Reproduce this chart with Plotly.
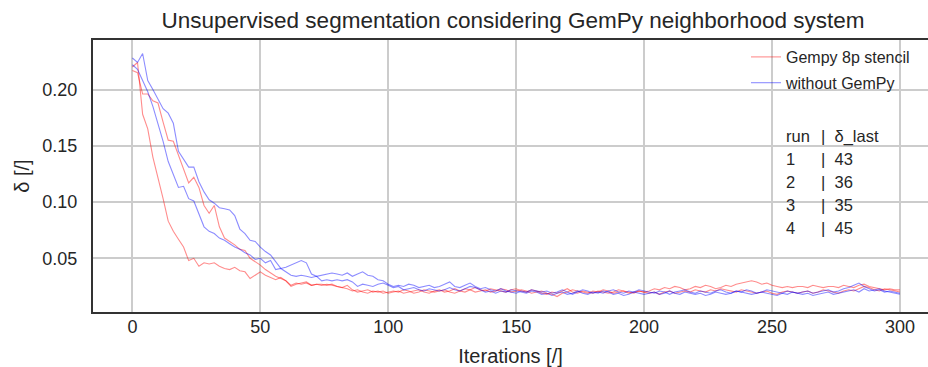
import plotly.graph_objects as go

# iterations sampled every 2 steps
iterations = list(range(0, 301, 2))

gempy_run1 = [
    0.220, 0.224, 0.178, 0.165, 0.140, 0.122, 0.103, 0.083, 0.074, 0.067, 0.060,
    0.048, 0.050, 0.043, 0.046, 0.045, 0.046, 0.043, 0.041, 0.040, 0.042,
    0.039, 0.038, 0.032, 0.035, 0.038, 0.035, 0.033, 0.031, 0.033, 0.030,
    0.025, 0.027, 0.028, 0.029, 0.026, 0.027, 0.027, 0.026, 0.027, 0.025,
    0.024, 0.026, 0.022, 0.020, 0.021, 0.022, 0.020, 0.021, 0.019, 0.020,
    0.021, 0.020, 0.022, 0.021, 0.019, 0.020, 0.022, 0.021, 0.020, 0.021,
    0.022, 0.020, 0.019, 0.021, 0.023, 0.022, 0.020, 0.021, 0.022, 0.020,
    0.021, 0.023, 0.022, 0.020, 0.021, 0.022, 0.021, 0.019, 0.020, 0.021,
    0.019, 0.018, 0.016, 0.019, 0.020, 0.022, 0.021, 0.020, 0.019, 0.021,
    0.020, 0.022, 0.021, 0.019, 0.020, 0.021, 0.019, 0.020, 0.021, 0.020,
    0.021, 0.023, 0.022, 0.024, 0.023, 0.025, 0.024, 0.022, 0.023, 0.025,
    0.024, 0.026, 0.025, 0.023, 0.024, 0.026, 0.025, 0.027, 0.028, 0.029,
    0.030, 0.029, 0.027, 0.028, 0.026, 0.025, 0.024, 0.025, 0.024, 0.025,
    0.025, 0.024, 0.026, 0.025, 0.024, 0.025, 0.025, 0.024, 0.026, 0.025,
    0.024, 0.026, 0.027, 0.025, 0.024, 0.023, 0.022, 0.023, 0.022, 0.022,
]

gempy_run2 = [
    0.217, 0.215, 0.196, 0.196, 0.190, 0.188, 0.171, 0.155, 0.154, 0.142, 0.130,
    0.117, 0.122, 0.113, 0.097, 0.090, 0.097, 0.078, 0.068, 0.065, 0.062,
    0.058, 0.057, 0.050, 0.047, 0.044, 0.040, 0.037, 0.034, 0.032, 0.030,
    0.026, 0.028, 0.027, 0.028, 0.026, 0.027, 0.026, 0.027, 0.026, 0.025,
    0.024, 0.023, 0.021, 0.022, 0.020, 0.019, 0.021, 0.020, 0.021, 0.019,
    0.020, 0.021, 0.019, 0.020, 0.021, 0.022, 0.020, 0.019, 0.021, 0.022,
    0.020, 0.021, 0.023, 0.021, 0.020, 0.022, 0.024, 0.022, 0.021, 0.023,
    0.022, 0.021, 0.020, 0.022, 0.023, 0.021, 0.020, 0.022, 0.021, 0.019,
    0.018, 0.020, 0.019, 0.021, 0.023, 0.020, 0.019, 0.021, 0.020, 0.019,
    0.021, 0.020, 0.019, 0.020, 0.022, 0.021, 0.020, 0.019, 0.021, 0.020,
    0.019, 0.020, 0.018, 0.020, 0.021, 0.019, 0.020, 0.021, 0.020, 0.022,
    0.021, 0.020, 0.022, 0.021, 0.023, 0.022, 0.021, 0.020, 0.022, 0.021,
    0.020, 0.019, 0.020, 0.021, 0.019, 0.018, 0.020, 0.021, 0.020, 0.019,
    0.020, 0.021, 0.019, 0.020, 0.022, 0.021, 0.020, 0.019, 0.021, 0.022,
    0.021, 0.023, 0.025, 0.024, 0.022, 0.021, 0.023, 0.022, 0.021, 0.020,
]

plain_run1 = [
    0.222, 0.218, 0.208, 0.198, 0.185, 0.170, 0.154, 0.136, 0.125, 0.113, 0.114,
    0.103, 0.101, 0.089, 0.078, 0.074, 0.072, 0.068, 0.066, 0.063, 0.060,
    0.058, 0.055, 0.053, 0.049, 0.050, 0.046, 0.048, 0.040, 0.041, 0.038,
    0.035, 0.034, 0.035, 0.034, 0.033, 0.034, 0.030, 0.031, 0.030, 0.031,
    0.030, 0.031, 0.029, 0.025, 0.027, 0.026, 0.025, 0.027, 0.028, 0.026,
    0.024, 0.025, 0.022, 0.023, 0.024, 0.022, 0.021, 0.023, 0.022, 0.021,
    0.022, 0.024, 0.022, 0.021, 0.023, 0.025, 0.024, 0.022, 0.020, 0.021,
    0.019, 0.021, 0.020, 0.022, 0.021, 0.020, 0.019, 0.021, 0.020, 0.018,
    0.019, 0.017, 0.019, 0.020, 0.018, 0.019, 0.021, 0.019, 0.018, 0.020,
    0.019, 0.021, 0.020, 0.018, 0.019, 0.017, 0.018, 0.020, 0.019, 0.018,
    0.019, 0.020, 0.018, 0.019, 0.021, 0.019, 0.018, 0.020, 0.019, 0.018,
    0.019, 0.017, 0.018, 0.020, 0.019, 0.018, 0.019, 0.021, 0.020, 0.019,
    0.018, 0.019, 0.020, 0.019, 0.018, 0.017, 0.019, 0.018, 0.020, 0.019,
    0.018, 0.019, 0.017, 0.018, 0.019, 0.020, 0.018, 0.019, 0.020, 0.021,
    0.022, 0.020, 0.023, 0.021, 0.022, 0.023, 0.021, 0.020, 0.019, 0.018,
]

plain_run2 = [
    0.228, 0.224, 0.232, 0.208, 0.200, 0.192, 0.183, 0.179, 0.170, 0.145, 0.138,
    0.131, 0.131, 0.118, 0.109, 0.102, 0.099, 0.095, 0.094, 0.093, 0.088,
    0.076, 0.072, 0.066, 0.065, 0.060, 0.056, 0.053, 0.047, 0.041, 0.042,
    0.044, 0.046, 0.048, 0.046, 0.036, 0.034, 0.035, 0.036, 0.037, 0.036,
    0.035, 0.037, 0.034, 0.036, 0.038, 0.035, 0.034, 0.031, 0.030, 0.027,
    0.025, 0.026, 0.025, 0.027, 0.026, 0.024, 0.025, 0.026, 0.024, 0.025,
    0.027, 0.029, 0.025, 0.024, 0.026, 0.028, 0.025, 0.023, 0.024, 0.022,
    0.021, 0.023, 0.021, 0.020, 0.019, 0.021, 0.020, 0.022, 0.021, 0.020,
    0.021, 0.019, 0.020, 0.022, 0.020, 0.018, 0.020, 0.022, 0.021, 0.019,
    0.020, 0.019, 0.021, 0.022, 0.020, 0.019, 0.021, 0.020, 0.022, 0.021,
    0.020, 0.019, 0.021, 0.020, 0.018, 0.020, 0.021, 0.022, 0.020, 0.019,
    0.021, 0.020, 0.019, 0.021, 0.022, 0.020, 0.019, 0.021, 0.020, 0.022,
    0.021, 0.019, 0.020, 0.022, 0.021, 0.020, 0.019, 0.021, 0.020, 0.019,
    0.020, 0.021, 0.019, 0.020, 0.021, 0.022, 0.020, 0.021, 0.023, 0.024,
    0.026, 0.028, 0.025, 0.023, 0.021, 0.022, 0.020, 0.021, 0.020, 0.019,
]

series_names = ["Gempy 8p stencil", "without GemPy"]
table_runs = ["1", "2", "3", "4"]
table_last = ["43", "36", "35", "45"]
x_ticks = [0, 50, 100, 150, 200, 250, 300]
y_ticks = [0.05, 0.10, 0.15, 0.20]

FONT = "Liberation Sans, Arial, sans-serif"
TXT = "#262626"
RED = "rgba(255,0,0,0.45)"
BLUE = "rgba(0,0,255,0.45)"

fig = go.Figure()
for i, ys in enumerate([gempy_run1, gempy_run2]):
    fig.add_trace(go.Scatter(x=iterations, y=ys, mode="lines",
                             line=dict(color=RED, width=1.1),
                             name=series_names[0], legendgroup="g",
                             showlegend=(i == 0)))
for i, ys in enumerate([plain_run1, plain_run2]):
    fig.add_trace(go.Scatter(x=iterations, y=ys, mode="lines",
                             line=dict(color=BLUE, width=1.1),
                             name=series_names[1], legendgroup="w",
                             showlegend=(i == 0)))

W, H = 928, 367
ml, mr, mt, mb = 93, 0, 40, 55
pw = W - ml - mr
ph = H - mt - mb

def px_x(px):
    return (px - ml) / pw

def px_y(py):
    return 1 - (py - mt) / ph

# table text
row_y = [136, 159, 182, 205, 228]
TFS = 16.5
fig.add_annotation(text="run", x=px_x(784), y=px_y(row_y[0]), xref="paper", yref="paper",
                   xanchor="left", yanchor="middle", showarrow=False,
                   font=dict(family=FONT, size=TFS, color=TXT))
fig.add_annotation(text="|  δ_last", x=px_x(819), y=px_y(row_y[0]), xref="paper", yref="paper",
                   xanchor="left", yanchor="middle", showarrow=False,
                   font=dict(family=FONT, size=TFS, color=TXT))
for k in range(4):
    fig.add_annotation(text=table_runs[k], x=px_x(784), y=px_y(row_y[k + 1]), xref="paper", yref="paper",
                       xanchor="left", yanchor="middle", showarrow=False,
                       font=dict(family=FONT, size=TFS, color=TXT))
    fig.add_annotation(text="|  " + table_last[k], x=px_x(819), y=px_y(row_y[k + 1]), xref="paper", yref="paper",
                       xanchor="left", yanchor="middle", showarrow=False,
                       font=dict(family=FONT, size=TFS, color=TXT))

x0 = -15.4
x_per_px = 300 / (900 - 132.5)
x1 = x0 + pw * x_per_px

fig.update_layout(
    width=W, height=H,
    margin=dict(l=ml, r=mr, t=mt, b=mb),
    paper_bgcolor="white", plot_bgcolor="white",
    font=dict(family=FONT, color=TXT),
    title=dict(text="Unsupervised segmentation considering GemPy neighborhood system",
               x=(513) / W, xref="container", xanchor="center",
               y=1 - 20 / H, yref="container", yanchor="middle",
               font=dict(family=FONT, size=22.5, color=TXT)),
    showlegend=True,
    legend=dict(x=px_x(746), y=px_y(40), xanchor="left", yanchor="top",
                bgcolor="rgba(0,0,0,0)", font=dict(family=FONT, size=16, color=TXT),
                traceorder="grouped", tracegroupgap=2),
    xaxis=dict(range=[x0, x1], tickvals=x_ticks, ticktext=[str(v) for v in x_ticks],
               showgrid=True, gridcolor="#cccccc", gridwidth=1.5, zeroline=False,
               showline=True, linecolor="#333333", linewidth=2, mirror=True,
               ticks="", ticklabelstandoff=-3,
               tickfont=dict(family=FONT, size=18, color=TXT),
               title=dict(text="Iterations [/]", standoff=13,
                          font=dict(family=FONT, size=20, color=TXT))),
    yaxis=dict(range=[0.0023, 0.244], tickvals=y_ticks, ticktext=["0.05", "0.10", "0.15", "0.20"],
               showgrid=True, gridcolor="#cccccc", gridwidth=1.5, zeroline=False,
               showline=True, linecolor="#333333", linewidth=2, mirror=False,
               ticks="", ticklabelstandoff=10,
               tickfont=dict(family=FONT, size=18, color=TXT),
               title=dict(text="δ [/]", standoff=7,
                          font=dict(family=FONT, size=20, color=TXT))),
)

fig.write_html("out.html")
